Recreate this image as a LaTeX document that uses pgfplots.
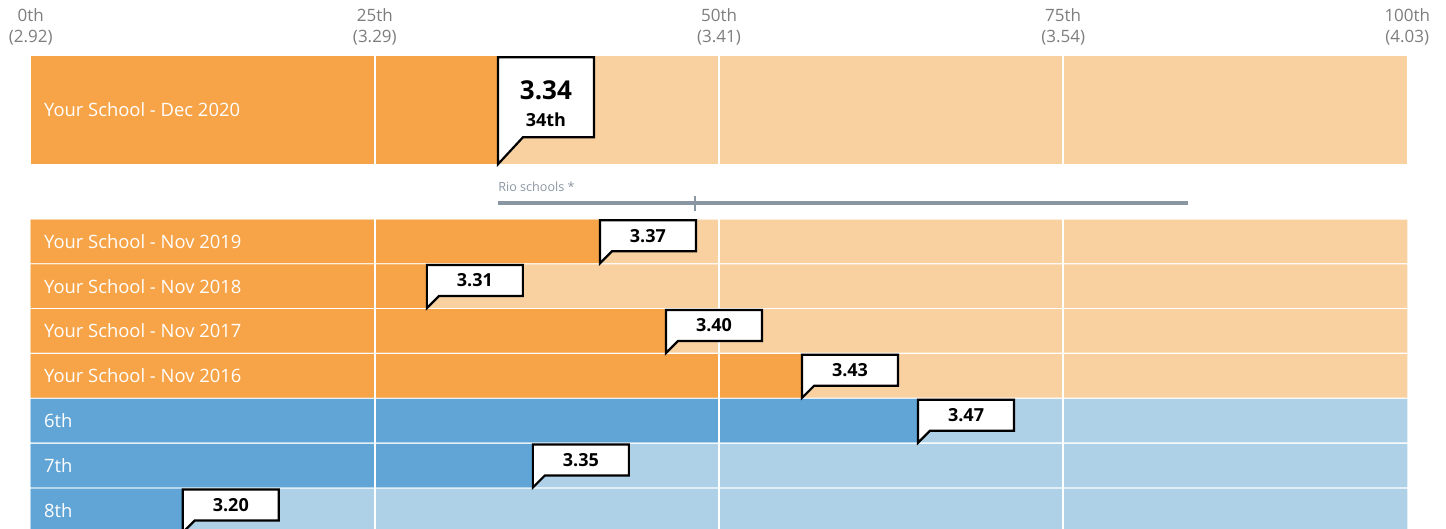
\documentclass[border=0pt]{standalone}
\usepackage{fontspec}
\setmainfont{Open Sans}
\usepackage{pgfplots}
\usepackage{pgfplotstable}
\pgfplotsset{compat=1.18}
\definecolor{dorange}{RGB}{247,164,72}
\definecolor{lorange}{RGB}{249,208,160}
\definecolor{dblue}{RGB}{96,165,214}
\definecolor{lblue}{RGB}{174,209,232}
\definecolor{tickgray}{RGB}{125,125,125}
\definecolor{riogray}{RGB}{138,150,162}

\tikzset{
  rowlabel/.style={anchor=west, inner sep=0pt, xshift=6.5pt, text=white,
    font=\fontsize{9.2}{11}\selectfont},
  ticklab/.style={align=center, inner sep=0pt, text=tickgray,
    font=\fontsize{8.5}{10.5}\selectfont},
}

% small callout, anchored at its top-left corner
\pgfdeclareplotmark{callout}{%
  \pgfpathmoveto{\pgfpointorigin}%
  \pgfpathlineto{\pgfpoint{48pt}{0pt}}%
  \pgfpathlineto{\pgfpoint{48pt}{-15.5pt}}%
  \pgfpathlineto{\pgfpoint{6pt}{-15.5pt}}%
  \pgfpathlineto{\pgfpoint{0pt}{-21.5pt}}%
  \pgfpathclose
  \pgfusepathqfillstroke}
% big callout, anchored at its tip
\pgfdeclareplotmark{bigcallout}{%
  \pgfpathmoveto{\pgfpointorigin}%
  \pgfpathlineto{\pgfpoint{0pt}{53.5pt}}%
  \pgfpathlineto{\pgfpoint{48pt}{53.5pt}}%
  \pgfpathlineto{\pgfpoint{48pt}{13.5pt}}%
  \pgfpathlineto{\pgfpoint{12.5pt}{13.5pt}}%
  \pgfpathclose
  \pgfusepathqfillstroke}

% top row: y centre, percentile, full length, tip (bar bottom)
\pgfplotstableread{
y pct full tip
110 33.94 100 164.3
}\topdata
% rows: y centre, percentile, full length, box top, score
\pgfplotstableread{
y pct full top label
241.3 41.35 100 220.3 3.37
286.1 28.78 100 265.1 3.31
331.0 46.15 100 310.0 3.40
375.8 56.03 100 354.8 3.43
}\orangedata
\pgfplotstableread{
y pct full top label
420.7 64.46 100 399.7 3.47
465.5 36.48 100 444.5 3.35
510.4 11.05 100 489.4 3.20
}\bluedata
\pgfplotstableread{
x y
33.94 203
84.08 203
}\riorange
\pgfplotstableread{
x y
48.26 196
48.26 211
}\riomedian

\begin{document}
\begin{tikzpicture}
\begin{axis}[
  scale only axis, width=723pt, height=264.5pt,
  xmin=-2.230, xmax=102.811, ymin=0, ymax=529, y dir=reverse,
  hide axis, clip marker paths=true,
  callout/.style={only marks, mark=callout,
    mark options={fill=white, draw=black, line width=1.1pt, solid},
    point meta=explicit symbolic, nodes near coords,
    every node near coord/.style={anchor=center, xshift=24pt, yshift=-7.75pt,
      inner sep=0pt, text=black, font=\bfseries\fontsize{9}{10}\selectfont}},
]
\coordinate (BL) at (rel axis cs:0,0);
\coordinate (TR) at (rel axis cs:1,1);
% background bars
\addplot[xbar, bar width=108.6, bar shift=0pt, fill=lorange, draw=none] table[x=full,y=y] {\topdata};
\addplot[xbar, bar width=43.5, bar shift=0pt, fill=lorange, draw=none] table[x=full,y=y] {\orangedata};
\addplot[xbar, bar width=43.5, bar shift=0pt, fill=lblue, draw=none] table[x=full,y=y] {\bluedata};
% value bars
\addplot[xbar, bar width=108.6, bar shift=0pt, fill=dorange, draw=none] table[x=pct,y=y] {\topdata};
\addplot[xbar, bar width=43.5, bar shift=0pt, fill=dorange, draw=none] table[x=pct,y=y] {\orangedata};
\addplot[xbar, bar width=43.5, bar shift=0pt, fill=dblue, draw=none] table[x=pct,y=y] {\bluedata};
% white quartile lines
\addplot[white, line width=0.8pt] coordinates {(25,55.7) (25,164.3)};
\addplot[white, line width=0.8pt] coordinates {(50,55.7) (50,164.3)};
\addplot[white, line width=0.8pt] coordinates {(75,55.7) (75,164.3)};
\addplot[white, line width=0.8pt] coordinates {(25,219.3) (25,529)};
\addplot[white, line width=0.8pt] coordinates {(50,219.3) (50,529)};
\addplot[white, line width=0.8pt] coordinates {(75,219.3) (75,529)};
% Rio schools range
\addplot[riogray, line width=1.6pt] table[x=x,y=y] {\riorange};
\addplot[riogray, line width=1pt] table[x=x,y=y] {\riomedian};
% callouts
\addplot[only marks, mark=bigcallout,
  mark options={fill=white, draw=black, line width=1.1pt, solid},
  nodes near coords={3.34},
  every node near coord/.style={anchor=center, xshift=24pt, yshift=37pt,
    inner sep=0pt, text=black, font=\bfseries\fontsize{13}{14}\selectfont}]
  table[x=pct,y=tip] {\topdata};
\addplot[draw=none, mark=none,
  nodes near coords={34th},
  every node near coord/.style={anchor=center, xshift=24pt, yshift=22.5pt,
    inner sep=0pt, text=black, font=\bfseries\fontsize{9}{10}\selectfont}]
  table[x=pct,y=tip] {\topdata};
\addplot[callout] table[x=pct,y=top,meta=label] {\orangedata};
\addplot[callout] table[x=pct,y=top,meta=label] {\bluedata};
% row labels
\node[rowlabel] at (axis cs:0,110) {Your School - Dec 2020};
\node[rowlabel] at (axis cs:0,241.3) {Your School - Nov 2019};
\node[rowlabel] at (axis cs:0,286.1) {Your School - Nov 2018};
\node[rowlabel] at (axis cs:0,331.0) {Your School - Nov 2017};
\node[rowlabel] at (axis cs:0,375.8) {Your School - Nov 2016};
\node[rowlabel] at (axis cs:0,420.7) {6th};
\node[rowlabel] at (axis cs:0,465.5) {7th};
\node[rowlabel] at (axis cs:0,510.4) {8th};
% percentile tick labels
\node[ticklab] at (axis cs:0,26.5) {0th\\(2.92)};
\node[ticklab] at (axis cs:25,26.5) {25th\\(3.29)};
\node[ticklab] at (axis cs:50,26.5) {50th\\(3.41)};
\node[ticklab] at (axis cs:75,26.5) {75th\\(3.54)};
\node[ticklab] at (axis cs:100,26.5) {100th\\(4.03)};
% Rio schools label
\node[anchor=west, inner sep=0pt, text=riogray, font=\fontsize{6.3}{7}\selectfont] at (axis cs:33.94,187) {Rio schools *};
\end{axis}
\pgfresetboundingbox
\path[use as bounding box] (BL) rectangle (TR);
\end{tikzpicture}
\end{document}
